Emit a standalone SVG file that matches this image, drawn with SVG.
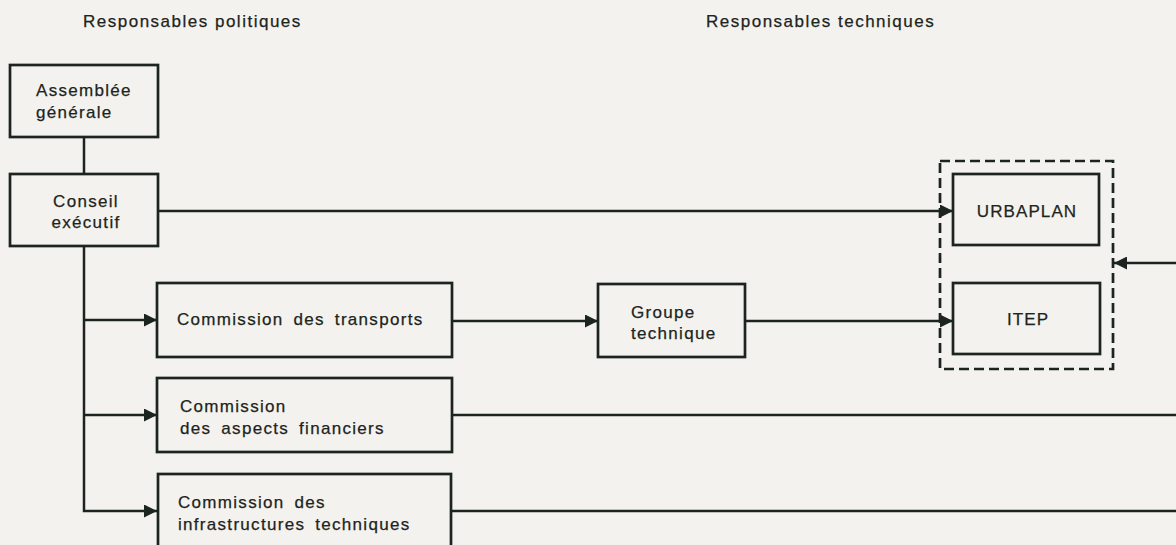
<svg xmlns="http://www.w3.org/2000/svg" width="1176" height="545" viewBox="0 0 1176 545">
<style>
.bg{fill:#f4f2ee}
.box{fill:none;stroke:#1c2420;stroke-width:2.7}
.dash{fill:none;stroke:#1c2420;stroke-width:2.7;stroke-dasharray:10 5}
.ln{fill:none;stroke:#1c2420;stroke-width:2.5}
text{font-family:"Liberation Sans",Arial,sans-serif;font-size:17px;fill:#1c2420;stroke:#1c2420;stroke-width:0.25;letter-spacing:1.3px}
.c{text-anchor:middle}
.w{word-spacing:4px}
</style>
<defs>
<marker id="ah" viewBox="0 0 13 13" refX="13" refY="6.5" markerWidth="13" markerHeight="13" markerUnits="userSpaceOnUse" orient="auto">
<path d="M0,0 L13,6.5 L0,13 Z" fill="#1c2420"/>
</marker>
</defs>
<rect class="bg" x="0" y="0" width="1176" height="545"/>
<g id="headers">
<text x="83" y="27" style="letter-spacing:1.5px">Responsables politiques</text>
<text x="706" y="27" style="letter-spacing:1.5px">Responsables techniques</text>
</g>
<g id="connectors">
<line class="ln" x1="84" y1="137" x2="84" y2="174"/>
<polyline class="ln" points="84,246 84,511 157,511" marker-end="url(#ah)"/>
<line class="ln" x1="84" y1="320" x2="157" y2="320" marker-end="url(#ah)"/>
<line class="ln" x1="84" y1="415" x2="157" y2="415" marker-end="url(#ah)"/>
<line class="ln" x1="158" y1="211" x2="953" y2="211" marker-end="url(#ah)"/>
<line class="ln" x1="452" y1="321" x2="598" y2="321" marker-end="url(#ah)"/>
<line class="ln" x1="745" y1="321" x2="953" y2="321" marker-end="url(#ah)"/>
<line class="ln" x1="1176" y1="263" x2="1114" y2="263" marker-end="url(#ah)"/>
<line class="ln" x1="452" y1="415" x2="1176" y2="415"/>
<line class="ln" x1="451" y1="511" x2="1176" y2="511"/>
</g>
<g id="assemblee">
<rect class="box" x="10" y="65" width="148" height="72"/>
<text x="36" y="96">Assemblée</text>
<text x="36" y="118">générale</text>
</g>
<g id="conseil">
<rect class="box" x="10" y="174" width="148" height="72"/>
<text class="c" x="86" y="207">Conseil</text>
<text class="c" x="86" y="228">exécutif</text>
</g>
<g id="transports">
<rect class="box" x="157" y="283" width="295" height="74"/>
<text class="w" x="177" y="325">Commission des transports</text>
</g>
<g id="financiers">
<rect class="box" x="157" y="378" width="295" height="74"/>
<text x="180" y="412">Commission</text>
<text class="w" x="180" y="434">des aspects financiers</text>
</g>
<g id="infrastructures">
<rect class="box" x="158" y="474" width="293" height="90"/>
<text class="w" x="178" y="508">Commission des</text>
<text class="w" x="178" y="530">infrastructures techniques</text>
</g>
<g id="groupe">
<rect class="box" x="598" y="284" width="147" height="73"/>
<text x="631" y="318">Groupe</text>
<text x="631" y="339">technique</text>
</g>
<g id="bureaux">
<rect class="dash" x="940" y="161" width="173" height="208"/>
</g>
<g id="urbaplan">
<rect class="box" x="953" y="174" width="146" height="71"/>
<text class="c" x="1027" y="217" style="letter-spacing:1.1px">URBAPLAN</text>
</g>
<g id="itep">
<rect class="box" x="953" y="283" width="147" height="71"/>
<text class="c" x="1028" y="325" style="letter-spacing:1.1px">ITEP</text>
</g>
</svg>
